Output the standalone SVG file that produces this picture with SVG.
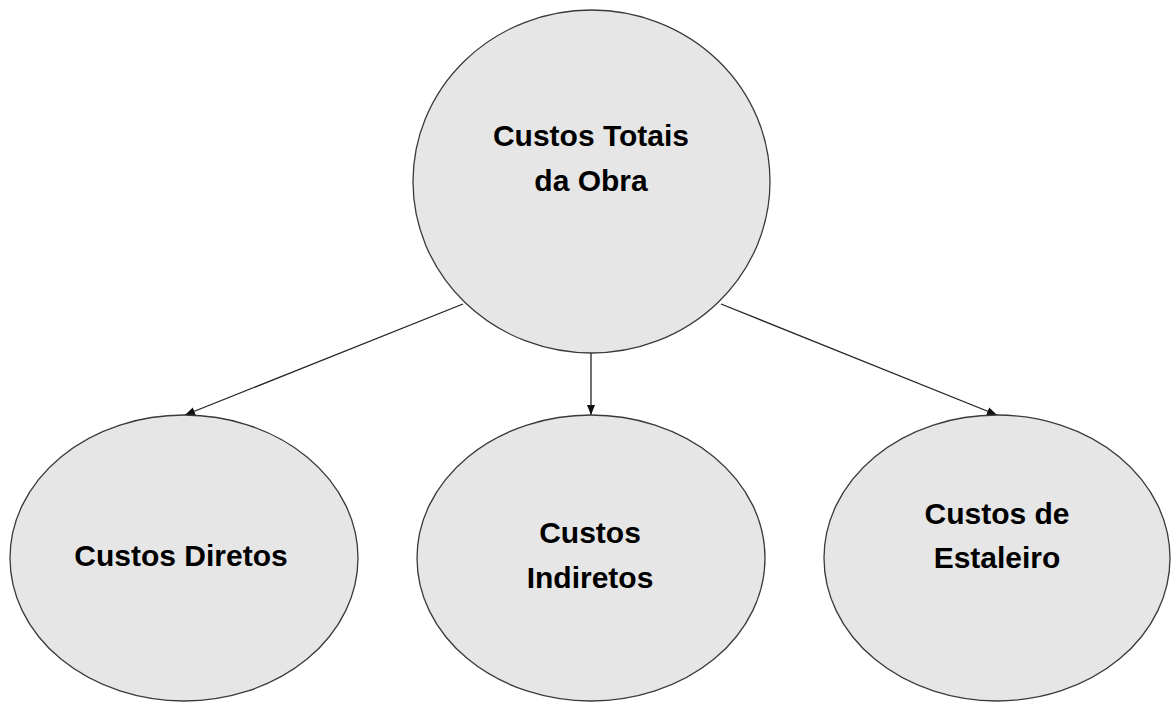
<svg xmlns="http://www.w3.org/2000/svg" width="1171" height="702" viewBox="0 0 1171 702">
  <style>
    .node { fill: #e6e6e6; stroke: #3a3a3a; stroke-width: 1.3; }
    .lbl { font-family: "Liberation Sans", Arial, sans-serif; font-weight: bold; font-size: 30px; fill: #000; text-anchor: middle; }
    .conn { stroke: #222; stroke-width: 1.3; fill: none; marker-end: url(#arrow); }
  </style>
  <defs>
    <marker id="arrow" markerUnits="userSpaceOnUse" markerWidth="10" markerHeight="10" viewBox="0 0 10 10" refX="10" refY="5" orient="auto">
      <path d="M0,1 L10,5 L0,9 Z" fill="#111"/>
    </marker>
  </defs>
  <rect width="1171" height="702" fill="#ffffff"/>
  <g id="connectors">
    <line class="conn" x1="463" y1="304" x2="185" y2="415"/>
    <line class="conn" x1="591" y1="353" x2="591" y2="415"/>
    <line class="conn" x1="721" y1="304" x2="997" y2="415"/>
  </g>
  <g id="node-total">
    <ellipse class="node" cx="591.5" cy="181.5" rx="178.5" ry="171.5"/>
    <text class="lbl" x="591" y="146">Custos Totais</text>
    <text class="lbl" x="591" y="191">da Obra</text>
  </g>
  <g id="node-diretos">
    <ellipse class="node" cx="184" cy="558" rx="174" ry="143"/>
    <text class="lbl" x="181" y="566">Custos Diretos</text>
  </g>
  <g id="node-indiretos">
    <ellipse class="node" cx="591" cy="558" rx="174" ry="143"/>
    <text class="lbl" x="590" y="543">Custos</text>
    <text class="lbl" x="590" y="588">Indiretos</text>
  </g>
  <g id="node-estaleiro">
    <ellipse class="node" cx="997" cy="558" rx="173" ry="143"/>
    <text class="lbl" x="997" y="524">Custos de</text>
    <text class="lbl" x="997" y="568">Estaleiro</text>
  </g>
</svg>
